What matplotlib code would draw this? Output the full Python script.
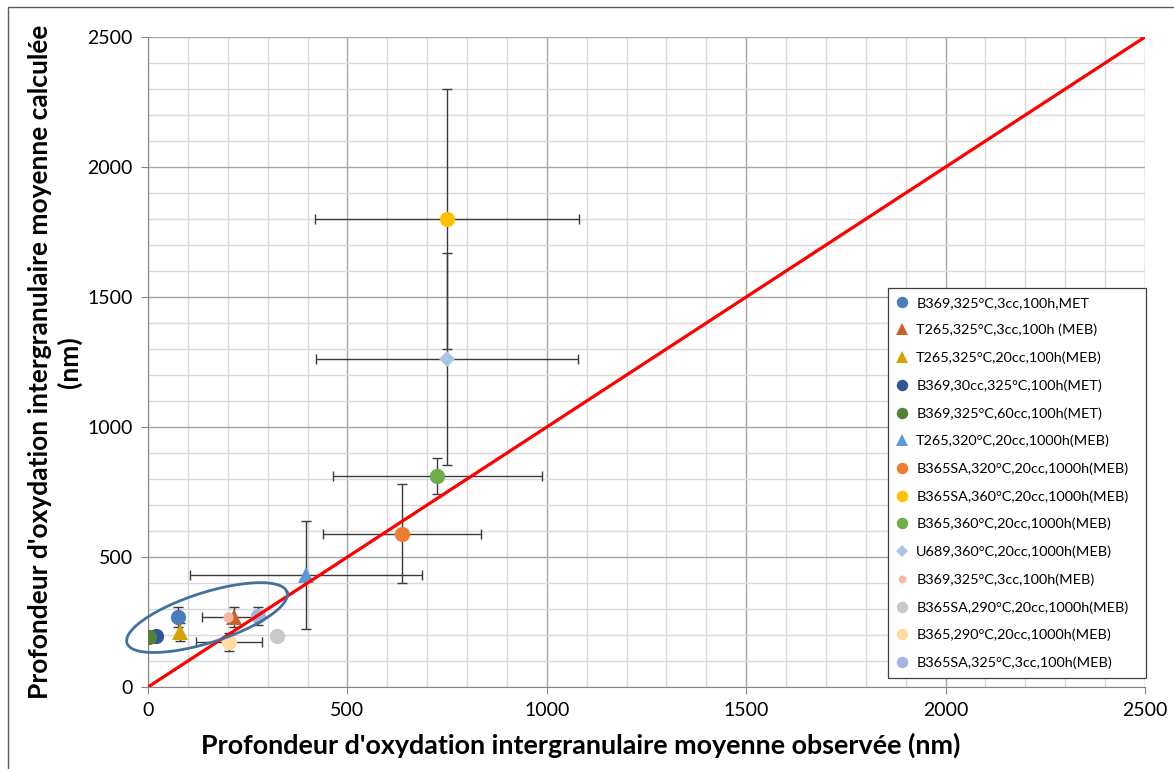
import numpy as np
import matplotlib
matplotlib.use("Agg")
import matplotlib.pyplot as plt
from matplotlib.lines import Line2D
from matplotlib.patches import Rectangle

plt.rcParams["font.family"] = ["Lato", "DejaVu Sans"]

# series (one point each)
labels = [
    "B369,325°C,3cc,100h,MET",
    "T265,325°C,3cc,100h (MEB)",
    "T265,325°C,20cc,100h(MEB)",
    "B369,30cc,325°C,100h(MET)",
    "B369,325°C,60cc,100h(MET)",
    "T265,320°C,20cc,1000h(MEB)",
    "B365SA,320°C,20cc,1000h(MEB)",
    "B365SA,360°C,20cc,1000h(MEB)",
    "B365,360°C,20cc,1000h(MEB)",
    "U689,360°C,20cc,1000h(MEB)",
    "B369,325°C,3cc,100h(MEB)",
    "B365SA,290°C,20cc,1000h(MEB)",
    "B365,290°C,20cc,1000h(MEB)",
    "B365SA,325°C,3cc,100h(MEB)",
]
x_obs = [75, 216, 80, 20, 3, 396, 637, 750, 725, 750, 200, 323, 203, 276]
y_calc = [269, 269, 212, 196, 192, 430, 590, 1800, 811, 1262, 269, 196, 173, 273]
x_err = [0, 0, 0, 0, 0, 290, 198, 330, 262, 328, 65, 0, 82, 0]
y_err = [39, 40, 35, 0, 0, 208, 190, 500, 70, 408, 0, 0, 35, 33]

colors = ["#4a7ebb", "#c8622a", "#d6a300", "#2e5597", "#538135", "#5b9bd5",
          "#ed7d31", "#ffc000", "#70ad47", "#a9c4e8", "#f4b6a6", "#c9c9c9",
          "#ffdb9f", "#a2b4df"]
markers = ["o", "^", "^", "o", "o", "^", "o", "o", "o", "D", "o", "o", "o", "o"]
sizes = [11, 12, 12, 11, 11, 12, 11, 11, 11, 8.5, 7.5, 11, 11, 11]

fig = plt.figure(figsize=(11.74, 7.69), dpi=100)
ax = fig.add_axes([148 / 1174, 1 - 687 / 769, 997 / 1174, 650 / 769])

ax.set_xlim(0, 2500)
ax.set_ylim(0, 2500)
ax.set_xticks(np.arange(0, 2501, 500))
ax.set_yticks(np.arange(0, 2501, 500))
ax.set_xticks(np.arange(0, 2501, 100), minor=True)
ax.set_yticks(np.arange(0, 2501, 100), minor=True)
ax.grid(True, which="minor", color="#d9d9d9", linewidth=1.0, zorder=0)
ax.grid(True, which="major", color="#a6a6a6", linewidth=1.0, zorder=0)
ax.set_axisbelow(True)
ax.tick_params(which="minor", length=0)
ax.tick_params(which="major", length=5, color="#868686", labelsize=14,
               labelcolor="black", pad=6)
for s in ["top", "right"]:
    ax.spines[s].set_visible(False)
for s in ["left", "bottom"]:
    ax.spines[s].set_color("#868686")

# error bars
for i in range(len(labels)):
    if x_err[i] or y_err[i]:
        ax.errorbar(x_obs[i], y_calc[i],
                    xerr=x_err[i] if x_err[i] else None,
                    yerr=y_err[i] if y_err[i] else None,
                    fmt="none", ecolor="#3a3a3a", elinewidth=1.0,
                    capsize=3.5, capthick=1.0, zorder=3)

# points
for i in range(len(labels)):
    ax.plot(x_obs[i], y_calc[i], marker=markers[i], color=colors[i],
            markersize=sizes[i], linestyle="none", markeredgewidth=0, zorder=4)

# y = x line
ax.plot([0, 2500], [0, 2500], color="#ff0000", linewidth=2.3, zorder=5)

# ellipse around the low-depth cluster (drawn in pixel proportions)
sx, sy = 997 / 2500, 650 / 2500
cx, cy = 148, 267
a, b, phi = 84, 25, np.deg2rad(17.7)
t = np.linspace(0, 2 * np.pi, 200)
ex = cx + (a * np.cos(t) * np.cos(phi) - b * np.sin(t) * np.sin(phi)) / sx
ey = cy + (a * np.cos(t) * np.sin(phi) + b * np.sin(t) * np.cos(phi)) / sy
ax.plot(ex, ey, color="#41719c", linewidth=2.0, zorder=6, clip_on=False)

# legend
handles = [Line2D([], [], marker=m, color=c, linestyle="none",
                  markersize=s * 0.75, markeredgewidth=0)
           for m, c, s in zip(markers, colors, sizes)]
leg = fig.legend(handles, labels, loc="upper left",
                 bbox_to_anchor=(888 / 1174, 1 - 288 / 769, 258 / 1174, 0),
                 mode="expand", fontsize=10.4, labelspacing=1.05,
                 handlelength=0.8, handletextpad=0.55, borderpad=0.6,
                 borderaxespad=0, frameon=True, fancybox=False,
                 edgecolor="#404040", framealpha=1)
leg.get_frame().set_linewidth(0.9)

fig.text(581 / 1174, 1 - 745 / 769,
         "Profondeur d'oxydation intergranulaire moyenne observée (nm)",
         ha="center", va="center", fontsize=19.4, fontweight="bold")
fig.text(55 / 1174, 1 - 362 / 769,
         "Profondeur d'oxydation intergranulaire moyenne calculée\n(nm)",
         ha="center", va="center", rotation=90, fontsize=19,
         fontweight="bold", linespacing=1.2)

# outer chart border
fig.patches.append(Rectangle((8 / 1174, -0.01), 1.2, 1 - 7 / 769 + 0.01,
                             transform=fig.transFigure, fill=False,
                             edgecolor="#595959", linewidth=1.0))

fig.savefig("out.png", dpi=100)
